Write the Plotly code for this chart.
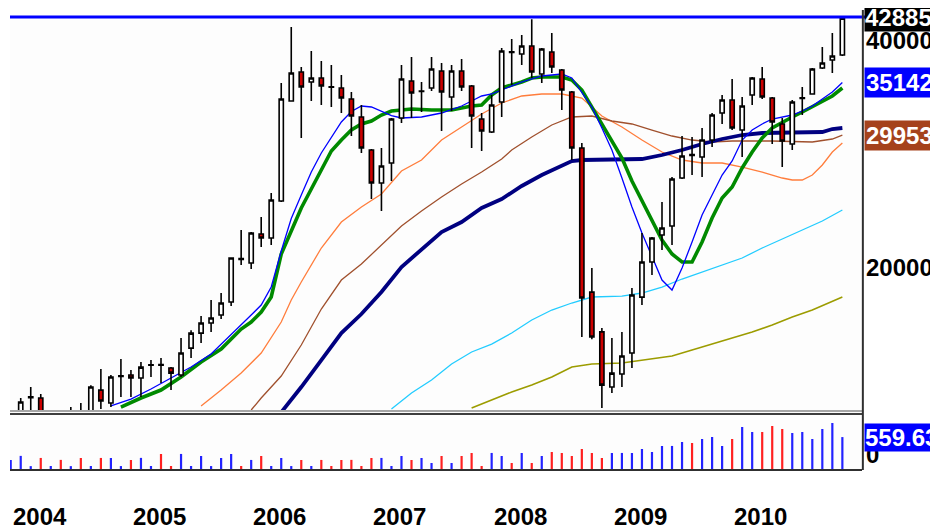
import numpy as np
import plotly.graph_objects as go

# ---------------- data ----------------
months = list(range(84))  # monthly bars, Jan 2004 .. Dec 2010
year_labels = ["2004", "2005", "2006", "2007", "2008", "2009", "2010"]
year_first_month = [0, 12, 24, 36, 48, 60, 72]

open_ = [12500, 12900, 13480, 13460, 12700, 12800, 12800, 12950, 12900, 13790,
         13260, 14380, 14440, 14310, 14870, 14900, 14750, 14440, 15670, 16400,
         16910, 17330, 18030, 20570, 20300, 22170, 21900, 24510, 33230, 36290,
         35200, 35630, 34700, 34570, 33430, 31650, 28620, 25890, 27520, 31550,
         35310, 34200, 34570, 36400, 33630, 36400, 34780, 31460, 30240, 33130,
         38580, 38330, 39280, 36070, 38570, 36510, 34150, 28800, 18580, 16460,
         13920, 14480, 15440, 18300, 20360, 22100, 22720, 26290, 28230, 28020,
         29510, 32040, 33330, 30420, 33840, 35530, 33530, 30980, 29150, 33480,
         33940, 36740, 37640, 38220]
high = [12800, 13460, 13920, 13630, 12900, 12950, 13100, 13260, 14000, 14700,
        14440, 15160, 14660, 15020, 15110, 15200, 14790, 16160, 16550, 17280,
        18140, 18530, 20660, 22440, 22300, 23350, 25110, 35100, 41620, 36850,
        38690, 37530, 37070, 35960, 34150, 32820, 28710, 28800, 31550, 37070,
        37990, 35200, 37990, 37300, 37070, 37750, 34880, 32040, 33840, 39040,
        40120, 40610, 42600, 39040, 40860, 36620, 34250, 29240, 19990, 16660,
        16160, 16460, 18810, 22240, 21970, 24440, 26370, 29870, 29780, 30610,
        32040, 33840, 35530, 33630, 35740, 36850, 33630, 31550, 33330, 34670,
        36740, 39160, 40860, 42885]
low = [12200, 12780, 12800, 12750, 12400, 12500, 12600, 12700, 12800, 13020,
       13100, 13500, 13500, 13500, 14350, 14090, 13790, 14350, 15200, 15910,
       16460, 17120, 17810, 20180, 19930, 21310, 21440, 24440, 33150, 29690,
       33230, 32820, 32630, 32040, 29870, 28370, 24660, 23780, 26050, 31080,
       31550, 32130, 34250, 30330, 32230, 34250, 28800, 28540, 30150, 31650,
       34880, 37070, 35630, 35100, 36180, 32330, 27770, 16210, 16100, 13060,
       13670, 13920, 14750, 17860, 19570, 21120, 21440, 26210, 26530, 26370,
       28890, 30980, 30420, 28020, 32820, 33430, 29150, 27180, 28620, 31840,
       33900, 36620, 36180, 38100]
close = [12600, 13300, 13510, 12900, 12800, 12700, 12950, 12850, 13920, 13340,
         14350, 14400, 14310, 14790, 14890, 14870, 14520, 15440, 16400, 16910,
         17170, 17970, 20610, 20520, 22240, 21900, 24590, 33430, 36180, 34670,
         35630, 34780, 34650, 33530, 31740, 28800, 25890, 27270, 31460, 35530,
         34050, 34260, 36620, 34150, 36400, 34670, 31740, 30330, 32820, 38690,
         38500, 39280, 36290, 38920, 36850, 34360, 28800, 18250, 16210, 14000,
         14520, 15300, 18420, 20360, 21900, 22580, 26210, 28110, 28160, 29510,
         31840, 33330, 30610, 32730, 35630, 33630, 31170, 29420, 33130, 33560,
         36620, 37300, 38100, 42750]
volume = [170, 240, 66, 205, 68, 172, 66, 204, 68, 205,
          204, 67, 170, 206, 68, 272, 68, 273, 68, 238,
          67, 204, 272, 68, 171, 238, 68, 204, 67, 170,
          68, 171, 68, 170, 172, 68, 204, 205, 68, 238,
          170, 204, 119, 238, 119, 238, 289, 68, 290, 238,
          119, 289, 119, 238, 306, 289, 238, 357, 289, 204,
          289, 290, 289, 357, 306, 408, 409, 476, 459, 527,
          561, 408, 527, 731, 646, 646, 748, 697, 629, 646,
          527, 697, 799, 559.63]

# moving-average style overlay lines (month index, value)
blue_x = [10, 12, 14, 16, 18, 20, 22, 24, 25, 26, 27, 28, 29, 30, 31, 32, 33, 34, 35, 36,
          37, 38, 39, 41, 43, 45, 46, 47, 48, 49, 51, 53, 55, 56, 57, 58, 59, 60, 61, 62,
          63, 64, 65, 66, 67, 68, 69, 70, 71, 72, 73, 74, 75, 76, 77, 78, 79, 80, 81, 82, 83]
blue_y = [13140, 13420, 13835, 14306, 14793, 15390, 16305, 17328, 17863, 18870, 21053, 23240,
          24962, 26772, 28365, 29780, 31170, 32182, 32725, 32626, 32230, 31792, 31552, 31648,
          32035, 32725, 33226, 33736, 33942, 34356, 35203, 35851, 36070, 35634, 34149, 32626,
          30606, 28624, 26288, 24068, 22238, 20672, 19275, 18697, 19992, 21637, 23489, 24962,
          26528, 27683, 29508, 30420, 30981, 31456, 31648, 31840, 32230, 32725, 33429, 34149,
          35142]
green_x = [11, 13, 15, 17, 19, 21, 23, 24, 25, 26, 27, 28, 29, 30, 31, 32, 33, 34, 35, 36,
           37, 38, 40, 42, 44, 46, 47, 48, 49, 50, 51, 52, 53, 55, 56, 57, 58, 59, 60, 61,
           62, 63, 64, 65, 66, 67, 68, 69, 70, 71, 72, 73, 74, 75, 76, 77, 78, 79, 80, 81, 82, 83]
green_y = [13098, 13462, 13793, 14350, 15020, 15626, 16606, 16963, 17488, 18304, 20862, 22441,
           23995, 25423, 26935, 28538, 29508, 30420, 30981, 31265, 31840, 32230, 32427, 32328,
           32328, 32725, 32824, 33838, 34567, 34883, 35203, 35634, 35743, 35743, 35417, 34356,
           32626, 30981, 29419, 27937, 26049, 24512, 23205, 21769, 20862, 20360, 20360, 21637,
           23276, 24736, 25578, 27100, 28452, 29689, 30606, 31170, 31648, 32133, 32626, 33126,
           33736, 34567]
orange_x = [19, 21, 23, 25, 27, 28, 29, 31, 33, 35, 37, 39, 41, 43, 45, 47, 49, 51, 53, 55,
            57, 59, 61, 63, 65, 67, 69, 71, 73, 75, 77, 78, 79, 80, 81, 82, 83]
orange_y = [13138, 13793, 14525, 15437, 16963, 18137, 19159, 21246, 22994, 24068, 25039, 26854,
            27767, 29508, 30700, 31938, 33025, 33736, 33942, 33942, 33531, 31744, 30700, 29508,
            28452, 27767, 27516, 27516, 27182, 26772, 26288, 26128, 26128, 26528, 27348, 28452,
            29241]
brown_x = [24, 25, 27, 29, 31, 33, 35, 37, 39, 41, 43, 45, 47, 49, 50, 52, 54, 56, 58, 60,
           62, 64, 66, 68, 70, 72, 76, 80, 82, 83]
brown_y = [12980, 13462, 14393, 15816, 17648, 19275, 20237, 21440, 22716, 23777, 24812, 25813,
           26772, 27852, 28624, 29780, 30886, 31648, 31744, 31265, 30981, 30420, 29870, 29508,
           29330, 29419, 29419, 29330, 29598, 29953]
navy_x = [27, 28, 29, 31, 33, 35, 37, 39, 41, 43, 45, 47, 49, 51, 53, 55, 56, 57, 63, 65,
          67, 69, 71, 73, 75, 81, 82, 83]
navy_y = [12890, 13380, 13920, 15111, 16405, 17381, 18584, 20053, 21117, 22305, 22994, 23995,
          24661, 25656, 26528, 27348, 27683, 27767, 27851, 28192, 28624, 29152, 29599, 29961,
          30145, 30236, 30513, 30606]
cyan_x = [38, 40, 42, 44, 46, 48, 50, 52, 54, 56, 58, 61, 63, 65, 67, 69, 71, 73, 75, 77,
          79, 81, 83]
cyan_y = [13019, 13668, 14219, 14929, 15484, 15864, 16405, 17066, 17594, 17973, 18304, 18359,
          18528, 18869, 19334, 19750, 20200, 20610, 21246, 21836, 22441, 23064, 23849]
olive_x = [46, 48, 50, 52, 54, 56, 58, 61, 64, 66, 68, 70, 72, 74, 76, 78, 80, 82, 83]
olive_y = [13059, 13380, 13710, 14004, 14350, 14793, 14929, 14974, 15157, 15297, 15578, 15864,
           16157, 16455, 16809, 17223, 17594, 18082, 18304]

price_ticks = [40000, 20000]
price_tick_text = ["40000", "20000"]

# ---------------- figure ----------------
LOG_LO, LOG_HI = 4.11197, 4.64169

fig = go.Figure()

lines = [
    (olive_x, olive_y, "#9c9c00", 1.6),
    (cyan_x, cyan_y, "#22ccff", 1.3),
    (orange_x, orange_y, "#ff7d3c", 1.3),
    (brown_x, brown_y, "#a0502d", 1.3),
    (navy_x, navy_y, "#000080", 3.8),
    (green_x, green_y, "#008a00", 3.6),
    (blue_x, blue_y, "#0000ff", 1.3),
]
for xs, ys, col, w in lines:
    fig.add_trace(go.Scatter(x=xs, y=ys, mode="lines", line=dict(color=col, width=w),
                             hoverinfo="skip", showlegend=False, xaxis="x", yaxis="y"))

fig.add_trace(go.Candlestick(
    x=months, open=open_, high=high, low=low, close=close,
    increasing=dict(fillcolor="white", line=dict(color="black", width=1.6)),
    decreasing=dict(fillcolor="#cc0000", line=dict(color="black", width=1.6)),
    whiskerwidth=0, showlegend=False, xaxis="x", yaxis="y3"))

vol_colors = ["#2222ff" if c >= o else "#ff2020" for o, c in zip(open_, close)]
fig.add_trace(go.Bar(x=months, y=volume, width=0.22,
                     marker=dict(color=vol_colors, line=dict(width=0)),
                     showlegend=False, xaxis="x", yaxis="y2"))

bold = dict(family="Liberation Sans, Arial, sans-serif", size=24, color="black", weight="bold")
white_bold = dict(bold, color="white")

annotations = []
for lbl, m in zip(year_labels, year_first_month):
    annotations.append(dict(x=m, y=-0.102, xref="x", yref="paper", text=lbl,
                            xanchor="left", yanchor="middle", showarrow=False, font=bold))
for v, t in zip(price_ticks, price_tick_text):
    annotations.append(dict(x=1, y=np.log10(v), xref="paper", yref="y", text=t, xshift=2,
                            xanchor="left", yanchor="middle", showarrow=False, font=bold))
hi_val = max(high)
annotations.append(dict(x=1, y=np.log10(hi_val), xref="paper", yref="y", text=str(hi_val),
                        xshift=2, xanchor="left", yanchor="middle", showarrow=False,
                        font=white_bold, bgcolor="black", borderpad=0))
annotations.append(dict(x=1, y=np.log10(blue_y[-1]), xref="paper", yref="y",
                        text=str(blue_y[-1]), xshift=2, xanchor="left", yanchor="middle",
                        showarrow=False, font=white_bold, bgcolor="#0000ff", borderpad=1))
annotations.append(dict(x=1, y=np.log10(brown_y[-1]), xref="paper", yref="y",
                        text=str(brown_y[-1]), xshift=2, xanchor="left", yanchor="middle",
                        showarrow=False, font=white_bold, bgcolor="#a5421c", borderpad=1))
annotations.append(dict(x=1, y=0, xref="paper", yref="y2", text="0", xshift=2,
                        xanchor="left", yanchor="bottom", showarrow=False, font=bold))
annotations.append(dict(x=1, y=volume[-1], xref="paper", yref="y2", text=f"{volume[-1]:.2f}",
                        xshift=2, xanchor="left", yanchor="middle", showarrow=False,
                        font=white_bold, bgcolor="#0000ff", borderpad=0))

main_bottom = (470 - 411) / 460
shapes = [
    dict(type="line", xref="paper", yref="y", x0=0, x1=1.004, y0=hi_val, y1=hi_val,
         line=dict(color="#0000ff", width=3)),
    dict(type="line", xref="paper", yref="paper", x0=0, x1=1, y0=main_bottom, y1=main_bottom,
         line=dict(color="#a8a8a8", width=2)),
    dict(type="line", xref="paper", yref="paper", x0=0, x1=1, y0=main_bottom - 0.0065,
         y1=main_bottom - 0.0065, line=dict(color="#404040", width=2)),
    dict(type="line", xref="paper", yref="paper", x0=0, x1=1, y0=0, y1=0,
         line=dict(color="#303030", width=2)),
    dict(type="line", xref="paper", yref="paper", x0=1.001, x1=1.001, y0=0, y1=1.0,
         line=dict(color="#303030", width=2)),
]

# the page puts the figure 8 px in from the top-left corner, so the figure is 8 px smaller
fig.update_layout(
    width=930, height=524, margin=dict(l=2, r=76, t=2, b=62),
    paper_bgcolor="white", plot_bgcolor="#fdfdfd", showlegend=False, boxgap=0.4,
    xaxis=dict(range=[-0.07, 84.96], visible=False, rangeslider=dict(visible=False)),
    yaxis=dict(type="log", range=[LOG_LO, LOG_HI], domain=[main_bottom, 1], visible=False),
    yaxis3=dict(type="log", range=[LOG_LO, LOG_HI], overlaying="y", visible=False),
    yaxis2=dict(range=[0, 850], domain=[0, (470 - 420) / 460], visible=False),
    annotations=annotations, shapes=shapes,
)

fig.write_html("out.html")
